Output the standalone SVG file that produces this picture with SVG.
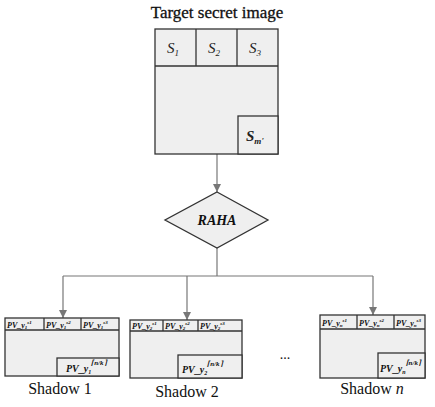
<svg xmlns="http://www.w3.org/2000/svg" width="435" height="407" viewBox="0 0 435 407">
<defs>
<marker id="ah" viewBox="0 0 10 10" refX="10" refY="5" markerWidth="8" markerHeight="8" orient="auto" markerUnits="userSpaceOnUse">
<path d="M0,0 L10,5 L0,10 z" fill="#777"/>
</marker>
</defs>
<style>
.box{fill:#efefef;stroke:#333;stroke-width:1.3}
.conn{fill:none;stroke:#777;stroke-width:1.2}
.t{font-family:"Liberation Serif",serif;fill:#111}
.si{font-family:"Liberation Serif",serif;font-style:italic;font-size:15px;fill:#222}
.pv{font-family:"Liberation Serif",serif;font-style:italic;font-weight:bold;font-size:8px;fill:#111}
.pvb{font-family:"Liberation Serif",serif;font-style:italic;font-weight:bold;font-size:10px;fill:#111}
</style>
<rect width="435" height="407" fill="#fff"/>
<g id="connectors">
<line class="conn" x1="217" y1="154" x2="217" y2="192" marker-end="url(#ah)"/>
<polyline class="conn" points="217,248 217,276"/>
<line class="conn" x1="63" y1="276" x2="373" y2="276"/>
<line class="conn" x1="63" y1="276" x2="63" y2="318" marker-end="url(#ah)"/>
<line class="conn" x1="187" y1="276" x2="187" y2="320" marker-end="url(#ah)"/>
<line class="conn" x1="373" y1="276" x2="373" y2="315" marker-end="url(#ah)"/>
</g>
<g id="target">
<text class="t" x="217" y="18" font-size="17" text-anchor="middle" stroke="#111" stroke-width="0.3">Target secret image</text>
<rect class="box" x="155" y="29" width="123" height="125"/>
<line class="box" x1="155" y1="66" x2="278" y2="66"/>
<line class="box" x1="196" y1="29" x2="196" y2="66"/>
<line class="box" x1="237" y1="29" x2="237" y2="66"/>
<rect class="box" x="238" y="116" width="40" height="38"/>
<text class="si" x="167" y="53">S<tspan font-size="9" dy="3">1</tspan></text>
<text class="si" x="208" y="53">S<tspan font-size="9" dy="3">2</tspan></text>
<text class="si" x="249" y="53">S<tspan font-size="9" dy="3">3</tspan></text>
<text class="si" x="246" y="141" font-weight="bold" font-size="16">S<tspan font-size="9" dy="3">m'</tspan></text>
</g>
<g id="raha">
<polygon class="box" points="217,192 268,220 217,248 165,220"/>
<text class="t" x="217" y="225" font-size="14" font-style="italic" font-weight="bold" text-anchor="middle">RAHA</text>
</g>
<g id="shadow1">
<rect class="box" x="5" y="318" width="114" height="58"/>
<line class="box" x1="5" y1="330" x2="119" y2="330"/>
<line class="box" x1="44" y1="318" x2="44" y2="330"/>
<line class="box" x1="81" y1="318" x2="81" y2="330"/>
<rect class="box" x="57" y="358" width="62" height="18"/>
<text class="pv" x="7" y="328">PV_y<tspan font-size="5" dy="1">1</tspan><tspan font-size="5" dy="-5">s1</tspan></text>
<text class="pv" x="46" y="328">PV_y<tspan font-size="5" dy="1">1</tspan><tspan font-size="5" dy="-5">s2</tspan></text>
<text class="pv" x="83" y="328">PV_y<tspan font-size="5" dy="1">1</tspan><tspan font-size="5" dy="-5">s3</tspan></text>
<text class="pvb" x="66" y="372">PV_y<tspan font-size="6" dy="2">1</tspan><tspan font-size="7" dy="-9">⌈n/k⌉</tspan></text>
<text class="t" x="60" y="394" font-size="16" text-anchor="middle">Shadow 1</text>
</g>
<g id="shadow2">
<rect class="box" x="130" y="320" width="112" height="58"/>
<line class="box" x1="130" y1="331" x2="242" y2="331"/>
<line class="box" x1="163" y1="320" x2="163" y2="331"/>
<line class="box" x1="198" y1="320" x2="198" y2="331"/>
<rect class="box" x="178" y="355" width="64" height="23"/>
<text class="pv" x="132" y="329">PV_y<tspan font-size="5" dy="1">2</tspan><tspan font-size="5" dy="-5">s1</tspan></text>
<text class="pv" x="165" y="329">PV_y<tspan font-size="5" dy="1">2</tspan><tspan font-size="5" dy="-5">s2</tspan></text>
<text class="pv" x="200" y="329">PV_y<tspan font-size="5" dy="1">2</tspan><tspan font-size="5" dy="-5">s3</tspan></text>
<text class="pvb" x="182" y="373">PV_y<tspan font-size="6" dy="2">2</tspan><tspan font-size="7" dy="-9">⌈n/k⌉</tspan></text>
<text class="t" x="187" y="397" font-size="16" text-anchor="middle">Shadow 2</text>
</g>
<text class="t" x="285" y="359" font-size="14" text-anchor="middle">...</text>
<g id="shadown">
<rect class="box" x="320" y="315" width="105" height="63"/>
<line class="box" x1="320" y1="329" x2="425" y2="329"/>
<line class="box" x1="357" y1="315" x2="357" y2="329"/>
<line class="box" x1="394" y1="315" x2="394" y2="329"/>
<rect class="box" x="378" y="353" width="47" height="25"/>
<text class="pv" x="322" y="326">PV_y<tspan font-size="5" dy="1">n</tspan><tspan font-size="5" dy="-5">s1</tspan></text>
<text class="pv" x="359" y="326">PV_y<tspan font-size="5" dy="1">n</tspan><tspan font-size="5" dy="-5">s2</tspan></text>
<text class="pv" x="396" y="326">PV_y<tspan font-size="5" dy="1">n</tspan><tspan font-size="5" dy="-5">s3</tspan></text>
<text class="pvb" x="380" y="372">PV_y<tspan font-size="6" dy="2">n</tspan><tspan font-size="7" dy="-9">⌈n/k⌉</tspan></text>
<text class="t" x="372" y="394" font-size="16" text-anchor="middle">Shadow <tspan font-style="italic">n</tspan></text>
</g>
</svg>
